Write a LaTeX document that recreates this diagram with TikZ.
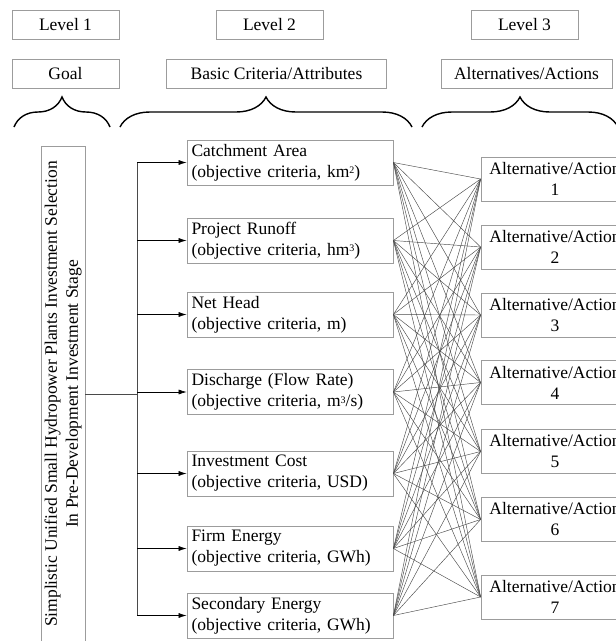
\documentclass[tikz,border=0pt]{standalone}
\usepackage{fontspec}
\setmainfont{Liberation Serif}
\usetikzlibrary{decorations.pathreplacing,arrows.meta}
\definecolor{boxgray}{HTML}{9C9C9C}
\definecolor{linkgray}{HTML}{4A4A4A}
% small raised unit exponent
\newcommand\unitexp[1]{\raisebox{3.5pt}{\fontsize{10}{10}\selectfont #1}}
\begin{document}
\begin{tikzpicture}[x=1pt,y=-1pt,
  txt/.style={font=\fontsize{17.5}{21}\selectfont},
  box/.style={txt, draw=boxgray, line width=0.8pt, inner sep=0pt},
  headbox/.style={box, minimum width=107pt, minimum height=29pt},
  critbox/.style={box, minimum width=206pt, minimum height=45pt, text width=197pt, align=left},
  altbox/.style={box, minimum width=148pt, minimum height=44pt, align=center},
  levelbrace/.style={decorate, decoration={brace, amplitude=30pt}, line width=1.4pt},
  link/.style={linkgray, line width=0.45pt},
  feed/.style={linkgray, line width=0.6pt},
  feedarrow/.style={feed, -{Latex[length=8pt,width=5pt]}, black}
]
\useasboundingbox (0,0) rectangle (616,641);

% level headers
\node[headbox] (lv1) at (65.5,24.5) {Level 1};
\node[headbox] (lv2) at (269.5,24.5) {Level 2};
\node[headbox] (lv3) at (524.5,24.5) {Level 3};

% level titles
\node[headbox] (tgoal) at (65.5,73.5) {Goal};
\node[headbox, minimum width=220pt] (tcrit) at (276.5,73.5) {Basic Criteria/Attributes};
\node[headbox, minimum width=171pt] (talt) at (526.5,73.5) {Alternatives/Actions};

% braces grouping each level
\draw[levelbrace] (14,127) -- (110,127);
\draw[levelbrace] (120,127) -- (412,127);
\draw[levelbrace] (422,127) -- (618,127);

% goal (rotated)
\node[box, rotate=90, minimum width=496pt, minimum height=44pt, align=center] (goal) at (63,394)
  {Simplistic Unified Small Hydropower Plants Investment Selection\\In Pre-Development Investment Stage};

% criteria
\node[critbox] (c1) at (290,162.5) {Catchment Area\\(objective criteria, km\unitexp{2})};
\node[critbox] (c2) at (290,240.5) {Project Runoff\\(objective criteria, hm\unitexp{3})};
\node[critbox] (c3) at (290,314.5) {Net Head\\(objective criteria, m)};
\node[critbox] (c4) at (290,392) {Discharge (Flow Rate)\\(objective criteria, m\unitexp{3}/s)};
\node[critbox] (c5) at (290,473.5) {Investment Cost\\(objective criteria, USD)};
\node[critbox] (c6) at (290,548.5) {Firm Energy\\(objective criteria, GWh)};
\node[critbox] (c7) at (290,615.5) {Secondary Energy\\(objective criteria, GWh)};

% alternatives
\foreach \k/\y in {1/179,2/247,3/315,4/382.5,5/451.5,6/519.5,7/597}
  \node[altbox] (a\k) at (555,\y) {Alternative/Action\\\k};

% goal to criteria feed
\coordinate (bus) at (137,394);
\draw[feed] (goal.south) -- (bus);
\draw[feed] (137,162.5) -- (137,615.5);
\foreach \k in {1,...,7}
  \draw[feedarrow] (c\k.west -| bus) -- (c\k.west);

% every criterion against every alternative
\foreach \i in {1,...,7}
  \foreach \j in {1,...,7}
    \draw[link] (c\i.east) -- (a\j.west);
\end{tikzpicture}
\end{document}
